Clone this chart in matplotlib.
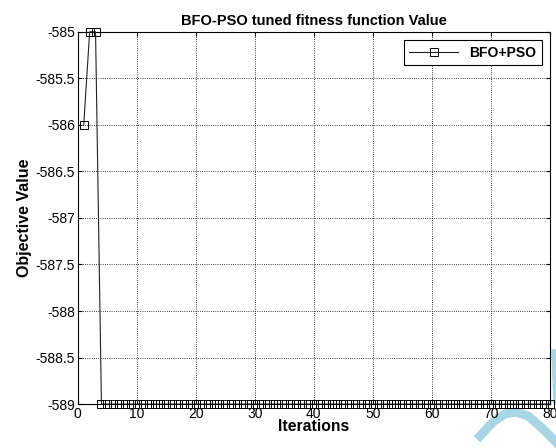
import matplotlib
matplotlib.use('Agg')
import matplotlib.pyplot as plt
from matplotlib.lines import Line2D

plt.rcParams['font.family'] = ['Liberation Sans', 'DejaVu Sans']

# data
iterations = list(range(1, 81))
fitness = [-586, -585, -585] + [-589] * 77
y_ticks = [-589, -588.5, -588, -587.5, -587, -586.5, -586, -585.5, -585]
y_tick_labels = ['-589', '-588.5', '-588', '-587.5', '-587', '-586.5', '-586', '-585.5', '-585']
x_ticks = [0, 10, 20, 30, 40, 50, 60, 70, 80]

fig = plt.figure(figsize=(5.56, 4.48), dpi=100)
ax = fig.add_axes([0.140, 0.098, 0.849, 0.831])

ax.plot(iterations, fitness, color='#222222', linewidth=0.8, marker='s',
        markersize=6, markerfacecolor='none', markeredgecolor='black',
        markeredgewidth=0.7, label='BFO+PSO', clip_on=False, zorder=3)

ax.set_xlim(0, 80)
ax.set_ylim(-589, -585)
ax.set_xticks(x_ticks)
ax.set_yticks(y_ticks)
ax.set_yticklabels(y_tick_labels)
ax.tick_params(direction='in', labelsize=10, length=3, top=True, right=True, pad=2)
ax.grid(True, linestyle=':', color='black', linewidth=0.6)

ax.set_title('BFO-PSO tuned fitness function Value', fontsize=10.5, fontweight='bold', pad=5)
ax.set_xlabel('Iterations', fontsize=11.3, fontweight='bold', labelpad=-1)
ax.set_ylabel('Objective Value', fontsize=11.5, fontweight='bold', labelpad=3)

leg = ax.legend(loc='upper right', fancybox=False, edgecolor='black',
                prop={'weight': 'bold', 'size': 10}, handlelength=3.5,
                borderaxespad=0.6, framealpha=1)
leg.get_frame().set_linewidth(0.8)

for s in ax.spines.values():
    s.set_linewidth(0.8)

# light blue watermark in the bottom right corner, behind the axes and labels
wm_x = [480, 494, 505, 516, 528, 542, 556]
wm_y = [436, 421, 414, 412, 416, 428, 442]
fig.add_artist(Line2D([x / 556 for x in wm_x], [1 - y / 448 for y in wm_y],
                      color='#a9d6e5', linewidth=6.5, transform=fig.transFigure,
                      zorder=-1))
fig.add_artist(Line2D([554 / 556, 556 / 556], [1 - 352 / 448, 1 - 402 / 448],
                      color='#a9d6e5', linewidth=4, transform=fig.transFigure,
                      zorder=-1))

fig.savefig('out.png', dpi=100)
